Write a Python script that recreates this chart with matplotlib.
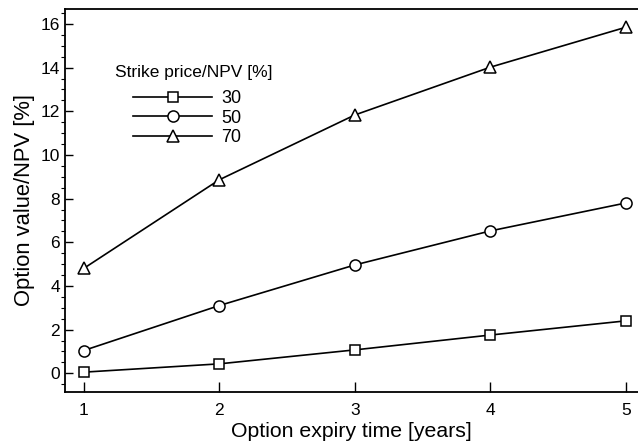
import matplotlib.pyplot as plt
from matplotlib.ticker import MultipleLocator

plt.rcParams['font.family'] = ['Liberation Sans', 'DejaVu Sans']

# data
years = [1, 2, 3, 4, 5]
strike_30 = [0.05, 0.43, 1.07, 1.75, 2.40]
strike_50 = [1.04, 3.10, 4.96, 6.52, 7.80]
strike_70 = [4.80, 8.86, 11.83, 14.02, 15.85]
legend_title = 'Strike price/NPV [%]'
labels = ['30', '50', '70']

W, H = 638, 446
fig = plt.figure(figsize=(W / 100, H / 100), dpi=100)
ax = fig.add_axes([0.102, 0.122, 0.898, 0.858])

style = dict(color='black', lw=1.2, mfc='white', mec='black', mew=1.1)
ax.plot(years, strike_30, marker='s', ms=7, label=labels[0], **style)
ax.plot(years, strike_50, marker='o', ms=8, label=labels[1], **style)
ax.plot(years, strike_70, marker='^', ms=8, label=labels[2], **style)

ax.set_xlim(0.863, 5.09)
ax.set_ylim(-0.84, 16.69)
ax.set_xticks(years)
ax.yaxis.set_major_locator(MultipleLocator(2))
ax.yaxis.set_minor_locator(MultipleLocator(0.5))
ax.tick_params(direction='in', labelsize=12.5, width=1.0)
ax.tick_params(axis='y', which='major', length=6)
ax.tick_params(axis='y', which='minor', length=3, width=0.8)
ax.tick_params(axis='x', which='major', length=7, pad=8)
ax.tick_params(right=False, top=False)

for s in ['left', 'bottom', 'top']:
    ax.spines[s].set_linewidth(1.3)
ax.spines['right'].set_visible(False)

ax.set_xlabel('Option expiry time [years]', fontsize=15.3, labelpad=3)
ax.set_ylabel('Option value/NPV [%]', fontsize=15.8, labelpad=4)

# legend title sits left of the indented entries
fig.text(115 / W, 1 - 72 / H, legend_title, fontsize=12.5, va='center', ha='left')
ax.legend(loc='upper left', bbox_to_anchor=(133 / W, 1 - 90 / H),
          bbox_transform=fig.transFigure, frameon=False, fontsize=13,
          borderpad=0, borderaxespad=0, handlelength=4.4,
          handletextpad=0.5, labelspacing=0.15)

fig.savefig('out.png', dpi=100)
